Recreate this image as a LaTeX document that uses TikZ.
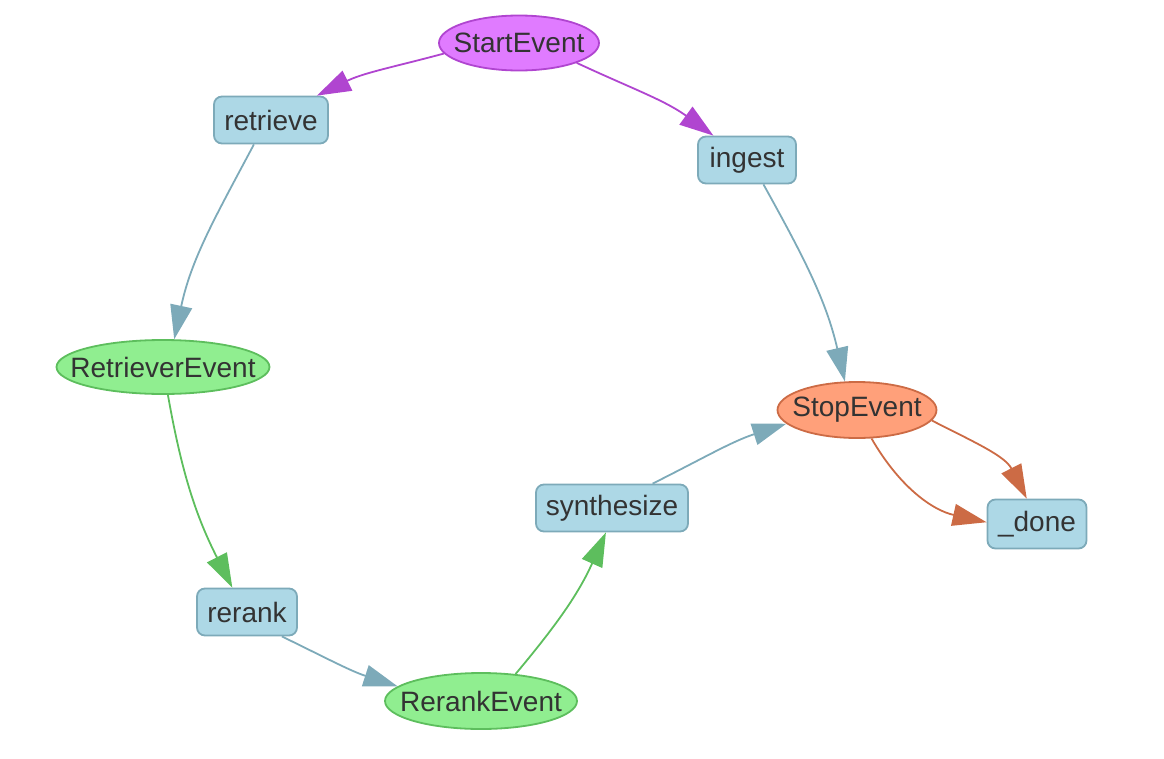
\documentclass[tikz,border=0pt]{standalone}
\usepackage{fontspec}
\setmainfont{Liberation Sans}
\usetikzlibrary{shapes.geometric,arrows.meta}
\definecolor{boxfill}{HTML}{ADD8E6}
\definecolor{boxline}{HTML}{7DAAB9}
\definecolor{startfill}{HTML}{E07BFF}
\definecolor{startline}{HTML}{B045D0}
\definecolor{greenfill}{HTML}{90EE90}
\definecolor{greenline}{HTML}{5DBE5D}
\definecolor{stopfill}{HTML}{FFA07A}
\definecolor{stopline}{HTML}{CC6B45}
\definecolor{txt}{HTML}{333333}
\newcommand{\evtext}[1]{\makebox[0pt]{#1}}
\tikzset{
  every node/.style={text=txt, font=\fontsize{28}{33}\selectfont, inner sep=0pt},
  stepbox/.style={rectangle, rounded corners=8pt, draw=boxline, fill=boxfill, line width=1.8pt, minimum height=47pt},
  evnode/.style={ellipse, line width=1.8pt, minimum height=55pt},
  startev/.style={evnode, draw=startline, fill=startfill},
  greenev/.style={evnode, draw=greenline, fill=greenfill},
  stopev/.style={evnode, draw=stopline, fill=stopfill},
  edge/.style={line width=1.8pt, -{Triangle[length=34pt,width=22pt]}},
}
\begin{document}
\begin{tikzpicture}[x=1pt,y=-1pt]
\useasboundingbox (0,0) rectangle (1164,758);
\node[startev, minimum width=160pt] (start) at (519,43) {\evtext{StartEvent}};
\node[stepbox, minimum width=114pt] (retrieve) at (271,120) {retrieve};
\node[stepbox, minimum width=98pt] (ingest) at (747,160) {ingest};
\node[greenev, minimum width=213pt, minimum height=54pt] (retev) at (163,367) {\evtext{RetrieverEvent}};
\node[stepbox, minimum width=100pt] (rerank) at (247,612) {rerank};
\node[greenev, minimum width=192pt, minimum height=56pt] (rerankev) at (481,701) {\evtext{RerankEvent}};
\node[stepbox, minimum width=152pt] (synth) at (612,508) {synthesize};
\node[stopev, minimum width=159pt, minimum height=56pt] (stop) at (857,410) {\evtext{StopEvent}};
\node[stepbox, minimum width=99pt, minimum height=49pt] (done) at (1037,524) {\_done};

\draw[edge, startline] (start.188) to[out=195, in=26] (retrieve.28);
\draw[edge, startline] (start.-19) to[out=-25, in=144] (ingest.144);
\draw[edge, boxline] (retrieve.235) to[out=242, in=78] (retev.68);
\draw[edge, greenline] (retev.-80) to[out=-80, in=117] (rerank.121);
\draw[edge, boxline] (rerank.-35) to[out=-26, in=162] (rerankev.170.5);
\draw[edge, greenline] (rerankev.38.5) to[out=50, in=246] (synth.256.5);
\draw[edge, boxline] (synth.31) to[out=26.6, in=198] (stop.191);
\draw[edge, boxline] (ingest.-56) to[out=-61, in=103] (stop.113);
\draw[edge, stopline] (stop.-8) to[out=-27, in=117] (done.112);
\draw[edge, stopline] (stop.-63) to[out=-60, in=167.5] (done.178);
\end{tikzpicture}
\end{document}
